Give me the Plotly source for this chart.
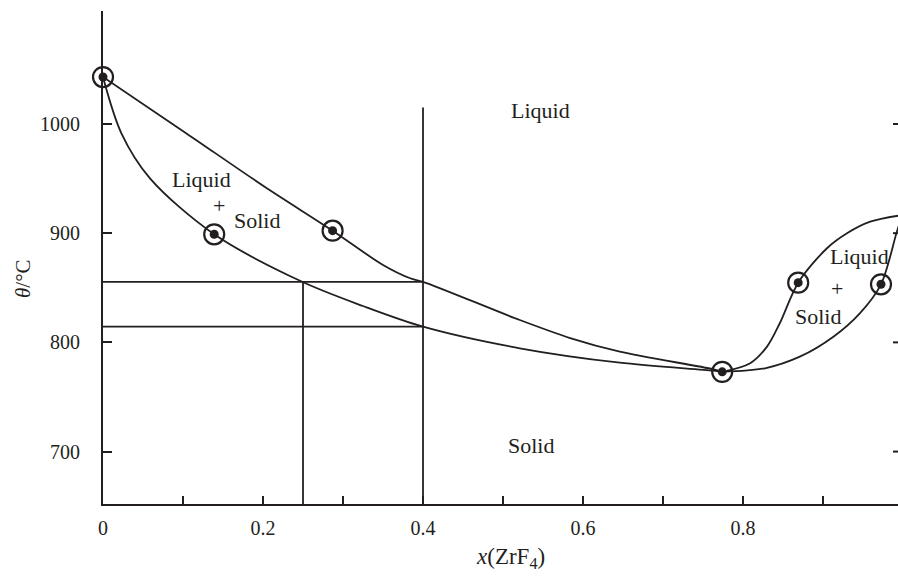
import plotly.graph_objects as go

# ---- data ----
liq_left_x = [0.0, 0.1025, 0.2025, 0.287, 0.35, 0.384, 0.4, 0.521, 0.584, 0.646, 0.7625, 0.774]
liq_left_T = [1043, 992.3, 942.3, 902.3, 870.9, 858.7, 855.5, 820.5, 804.0, 791.5, 775.4, 773]

sol_left_x = [0.0, 0.023, 0.059, 0.139, 0.249, 0.325, 0.4, 0.521, 0.646, 0.7625, 0.774]
sol_left_T = [1043, 991.5, 950, 899, 855.5, 833.3, 814.4, 794.6, 781.4, 774.1, 773]

liq_right_x = [0.774, 0.809, 0.830, 0.846, 0.869, 0.905, 0.930, 0.959, 1.0]
liq_right_T = [773, 780.9, 796.1, 817.5, 854.7, 886.2, 899.9, 910.5, 916.7]

sol_right_x = [0.774, 0.8275, 0.871, 0.913, 0.946, 0.9725, 0.993, 1.0]
sol_right_T = [773, 776.3, 786.9, 805.2, 826.6, 853.2, 902.9, 916.7]

point_x = [0.0, 0.139, 0.287, 0.774, 0.869, 0.9725, 1.0]
point_T = [1043, 899, 902.3, 773, 854.7, 853.2, 916.7]

tie_T = [855.5, 814.4]          # horizontal construction lines
tie_x_end = 0.4
comp_x = [0.4, 0.25]            # vertical construction lines
comp_top = [1015, 855.5]
T_bottom = 652

y_tickvals = [700, 800, 900, 1000]

region_labels = [
    ("Liquid", 0.547, 1012),
    ("Liquid", 0.1225, 949.6),
    ("+", 0.1446, 925.2),
    ("Solid", 0.193, 912),
    ("Solid", 0.5356, 705.4),
    ("Liquid", 0.945, 878.5),
    ("+", 0.917, 849.5),
    ("Solid", 0.894, 823.5),
]

INK = "#231f20"
FONT = "Liberation Serif"
LW = 1.8

fig = go.Figure()

for xs, ts in [(liq_left_x, liq_left_T), (sol_left_x, sol_left_T),
               (liq_right_x, liq_right_T), (sol_right_x, sol_right_T)]:
    fig.add_trace(go.Scatter(x=xs, y=ts, mode="lines",
                             line=dict(color=INK, width=LW, shape="spline", smoothing=0.9),
                             hoverinfo="skip", showlegend=False))

for t in tie_T:
    fig.add_trace(go.Scatter(x=[0, tie_x_end], y=[t, t], mode="lines",
                             line=dict(color=INK, width=LW), showlegend=False))
for cx, top in zip(comp_x, comp_top):
    fig.add_trace(go.Scatter(x=[cx, cx], y=[T_bottom, top], mode="lines",
                             line=dict(color=INK, width=LW), showlegend=False))

fig.add_trace(go.Scatter(x=point_x, y=point_T, mode="markers", cliponaxis=False,
                         marker=dict(symbol="circle-open", size=20, color=INK, line=dict(width=2.2, color=INK)),
                         showlegend=False))
fig.add_trace(go.Scatter(x=point_x, y=point_T, mode="markers", cliponaxis=False,
                         marker=dict(symbol="circle", size=9, color=INK, line=dict(width=0)),
                         showlegend=False))

for txt, lx, ly in region_labels:
    fig.add_annotation(x=lx, y=ly, text=txt, showarrow=False,
                       font=dict(family=FONT, size=22, color=INK))

# right-hand inward ticks (on the axis at x = 1, partly cut off)
for yv in y_tickvals:
    fig.add_shape(type="line", x0=0.9875, x1=1.0, y0=yv, y1=yv,
                  line=dict(color=INK, width=2))

fig.add_annotation(xref="paper", yref="paper", x=(510 - 103) / 795, y=(504 - 574) / 493,
                   text="<i>x</i>(ZrF<sub>4</sub>)", showarrow=False,
                   font=dict(family=FONT, size=23, color=INK))
fig.add_annotation(xref="paper", yref="paper", x=(9 - 103) / 795, y=(504 - 279) / 493,
                   text="<i>θ</i>/°C", textangle=-90, showarrow=False,
                   font=dict(family=FONT, size=21, color=INK))

fig.update_layout(
    width=898, height=576,
    margin=dict(l=103, r=0, t=11, b=72),
    paper_bgcolor="white", plot_bgcolor="white",
    showlegend=False,
    xaxis=dict(range=[0, (898 - 103) / 800], tick0=0, dtick=0.2,
               ticks="inside", ticklen=8, tickwidth=2, tickcolor=INK,
               minor=dict(dtick=0.1, tick0=0, ticks="inside", ticklen=8, tickwidth=2, tickcolor=INK, showgrid=False),
               showline=True, linecolor=INK, linewidth=2, showgrid=False, zeroline=False,
               tickfont=dict(family=FONT, size=20, color=INK), ticklabelstandoff=5),
    yaxis=dict(range=[652, 652 + 493 / 1.092], tickvals=y_tickvals,
               ticks="inside", ticklen=9, tickwidth=2, tickcolor=INK,
               showline=True, linecolor=INK, linewidth=2, showgrid=False, zeroline=False,
               tickfont=dict(family=FONT, size=20, color=INK), ticklabelstandoff=17),
)

fig.write_html("out.html")
